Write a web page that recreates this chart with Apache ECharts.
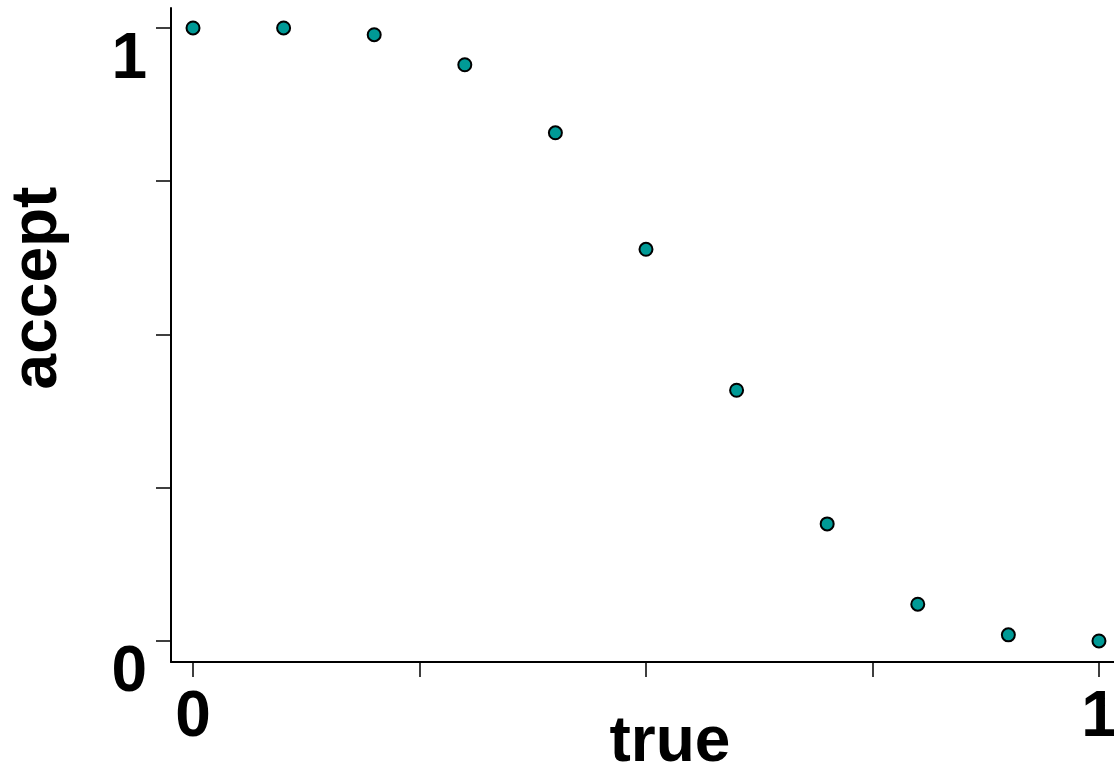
<!DOCTYPE html>
<html>
<head>
<meta charset="utf-8">
<script src="https://cdn.jsdelivr.net/npm/echarts@6/dist/echarts.min.js"></script>
<style>html,body{margin:0;padding:0;background:#fff;}#c{width:1114px;height:771px;}</style>
</head>
<body>
<div id="c"></div>
<script>
const trueValues = [0, 0.1, 0.2, 0.3, 0.4, 0.5, 0.6, 0.7, 0.8, 0.9, 1.0];
const acceptValues = [1.0, 1.0, 0.989, 0.94, 0.829, 0.639, 0.409, 0.191, 0.06, 0.01, 0.0];
const tickValues = [0, 0.25, 0.5, 0.75, 1];
const labelValues = [0, 1];
const xTitle = 'true';
const yTitle = 'accept';

const FONT = '"Liberation Sans", Arial, sans-serif';
const chart = echarts.init(document.getElementById('c'));
const points = trueValues.map((x, i) => [x, acceptValues[i]]);

chart.setOption({
  animation: false,
  backgroundColor: '#fff',
  grid: { left: 171, top: 8, right: 0, bottom: 109, containLabel: false, outerBoundsMode: 'none' },
  xAxis: {
    type: 'value',
    min: -0.0243,
    max: 1.0166,
    splitLine: { show: false },
    axisLine: { show: true, onZero: false, lineStyle: { color: '#000', width: 2 } },
    axisTick: { show: true, inside: false, length: 15, customValues: tickValues, lineStyle: { color: '#000', width: 1.5 } },
    axisLabel: {
      show: true, customValues: labelValues, margin: 24, hideOverlap: false,
      fontSize: 64, fontWeight: 'bold', fontFamily: FONT, color: '#000',
      formatter: v => String(Math.round(v))
    }
  },
  yAxis: {
    type: 'value',
    min: -0.0343,
    max: 1.0326,
    splitLine: { show: false },
    axisLine: { show: true, onZero: false, lineStyle: { color: '#000', width: 2 } },
    axisTick: { show: true, inside: false, length: 15, customValues: tickValues, lineStyle: { color: '#000', width: 1.5 } },
    axisLabel: {
      show: true, customValues: labelValues, margin: 24, verticalAlign: 'top',
      fontSize: 64, fontWeight: 'bold', fontFamily: FONT, color: '#000',
      formatter: v => String(Math.round(v))
    }
  },
  graphic: [
    { type: 'text', x: 670, y: 743, style: { text: xTitle, fontSize: 64, fontWeight: 'bold', fontFamily: FONT, fill: '#000', align: 'center', verticalAlign: 'middle' } },
    { type: 'text', x: 38, y: 288, rotation: Math.PI / 2, style: { text: yTitle, fontSize: 64, fontWeight: 'bold', fontFamily: FONT, fill: '#000', align: 'center', verticalAlign: 'middle' } }
  ],
  series: [{
    type: 'scatter',
    data: points,
    symbol: 'circle',
    symbolSize: 13,
    itemStyle: { color: '#009a96', borderColor: '#000', borderWidth: 2, opacity: 1 }
  }]
});
</script>
</body>
</html>
